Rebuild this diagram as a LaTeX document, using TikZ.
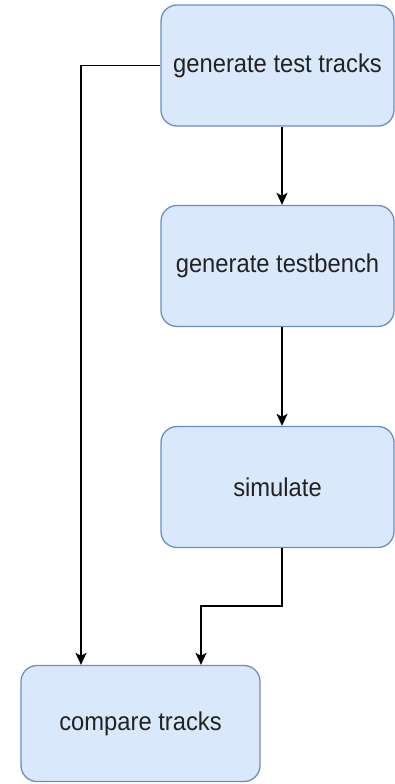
\documentclass[tikz,border=0pt]{standalone}
\usepackage{fontspec}
\setmainfont{Liberation Sans}
\usetikzlibrary{arrows.meta}
\definecolor{boxfill}{HTML}{DAE8FC}
\definecolor{boxline}{HTML}{6C8EBF}
\definecolor{textcol}{HTML}{222222}
% box labels are set slightly condensed
\newcommand{\boxlabel}[1]{\scalebox{0.95}[1.03]{#1}}
\begin{document}
\begin{tikzpicture}[x=1pt,y=-1pt,
  stepbox/.style={draw=boxline,fill=boxfill,line width=1.3pt,rounded corners=16pt,
    minimum width=233pt,minimum height=121pt,inner sep=0pt,
    font=\fontsize{25}{28}\selectfont,text=textcol},
  flow/.style={line width=1.6pt,-{Stealth[length=12pt,width=11pt,inset=3pt]}}]
\useasboundingbox (0,0) rectangle (395,784);
\node[stepbox] (gen)  at (277.5,65.5)  {\boxlabel{generate test tracks}};
\node[stepbox] (tb)   at (277.5,266)   {\boxlabel{generate testbench}};
\node[stepbox] (sim)  at (277.5,487)   {\boxlabel{simulate}};
\node[stepbox,minimum width=239pt,minimum height=116pt] (cmp) at (140.5,723.5) {\boxlabel{compare tracks}};
\coordinate (gl) at (81,65.5);
\coordinate (sd) at (282,606);
\coordinate (sl) at (201,606);
\draw[flow] (gen.south -| sd) -- (tb.north -| sd);
\draw[flow] (tb.south -| sd) -- (sim.north -| sd);
\draw[flow] (gen.west) -- (gl) -- (cmp.north -| gl);
\draw[flow] (sim.south -| sd) -- (sd) -- (sl) -- (cmp.north -| sl);
\end{tikzpicture}
\end{document}
